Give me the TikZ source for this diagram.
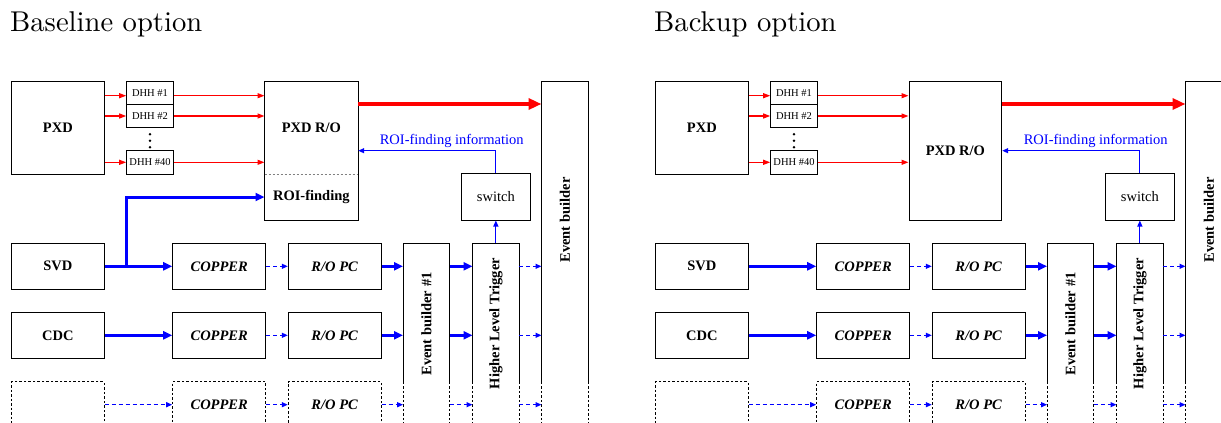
\documentclass[tikz,border=0pt]{standalone}
\usepackage{fontspec}
\newfontfamily\tnr{Liberation Serif}
\newfontfamily\titlefont{lmroman10-regular}[Extension=.otf]
\usetikzlibrary{arrows.meta}
\tikzset{
  box/.style={draw, line width=1pt, inner sep=0pt, font=\tnr\fontsize{14.5}{17}\selectfont\bfseries},
  dbox/.style={box, dash pattern=on 2.5pt off 2pt},
  copperbox/.style={font=\tnr\fontsize{14.5}{17}\selectfont\bfseries\itshape, minimum width=93pt, minimum height=46pt},
  ropcbox/.style={font=\tnr\fontsize{14.5}{17}\selectfont\bfseries\itshape, minimum width=92.7pt, minimum height=46pt},
  detbox/.style={minimum width=92.3pt, minimum height=46pt},
  dhhbox/.style={draw, line width=1pt, inner sep=0pt, font=\tnr\fontsize{10.5}{12}\selectfont, minimum width=46.6pt},
  bar/.style={inner sep=0pt, font=\tnr\fontsize{14.5}{17}\selectfont\bfseries},
  redthin/.style={draw=red, line width=1.2pt, -{Triangle[length=7pt,width=5pt]}},
  bigred/.style={draw=red, line width=4.5pt, -{Triangle[length=13pt,width=11pt]}},
  bluethick/.style={draw=blue, line width=3pt, -{Triangle[length=9pt,width=8pt]}},
  bluedash/.style={draw=blue, line width=1.2pt, dash pattern=on 4pt off 3pt, -{Triangle[length=6pt,width=5pt]}},
  bluethin/.style={draw=blue, line width=1.2pt, -{Triangle[length=6pt,width=5pt]}},
  barline/.style={line width=1pt},
  bardash/.style={line width=1pt, dash pattern=on 2.5pt off 2pt},
  title/.style={anchor=base west, inner sep=0pt, font=\titlefont\fontsize{28.6}{34}\selectfont}
}
\newcommand{\DiagPanel}[3]{%
\begin{scope}[xshift=#2pt]
% PXD and DHH
\node[box, minimum width=92.3pt, minimum height=92.3pt] (#1pxd) at (57.85,127.85) {PXD};
\node[dhhbox, minimum height=22.6pt] (#1dhh1) at (150,93) {DHH \#1};
\node[dhhbox, minimum height=23.4pt] (#1dhh2) at (150,116) {DHH \#2};
\node[dhhbox, minimum height=23.3pt] (#1dhh40) at (150,162.35) {DHH \#40};
\fill (150,134.3) circle (1.4pt) (150,140.7) circle (1.4pt) (150,147.3) circle (1.4pt);
\coordinate (#1ya) at (0,95.7);
\coordinate (#1yb) at (0,116);
\coordinate (#1yc) at (0,162.3);
\coordinate (#1yr) at (0,104);
\coordinate (#1yi) at (0,150.7);
% PXD R/O
\ifnum#3=1
\node[box, draw=none, minimum width=92.7pt, minimum height=92.3pt] (#1ro) at (311.35,127.85) {PXD R/O};
\node[box, draw=none, minimum width=92.7pt, minimum height=46pt] (#1roi) at (311.35,197) {ROI-finding};
\draw[line width=1pt] (#1ro.north west) rectangle (#1roi.south east);
\draw[gray, line width=1pt, dash pattern=on 2pt off 2pt] (#1ro.south west) -- (#1ro.south east);
\else
\node[box, minimum width=92.7pt, minimum height=138.3pt] (#1ro) at (311.35,150.85) {PXD R/O};
\fi
% switch
\node[box, font=\tnr\fontsize{14.5}{17}\selectfont, minimum width=69.7pt, minimum height=46.3pt] (#1sw) at (495.85,196.85) {switch};
% detectors rows
\node[box, detbox] (#1svd) at (57.85,266.3) {SVD};
\node[box, detbox] (#1cdc) at (57.85,335.3) {CDC};
\node[dbox, detbox] (#1d3) at (57.85,404.7) {};
\node[box, copperbox] (#1cp1) at (219.2,266.3) {COPPER};
\node[box, copperbox] (#1cp2) at (219.2,335.3) {COPPER};
\node[dbox, copperbox] (#1cp3) at (219.2,404.7) {COPPER};
\node[box, ropcbox] (#1pc1) at (334.65,266.3) {R/O PC};
\node[box, ropcbox] (#1pc2) at (334.65,335.3) {R/O PC};
\node[dbox, ropcbox] (#1pc3) at (334.65,404.7) {R/O PC};
% vertical bars
\node[bar, minimum width=46.4pt, minimum height=161.4pt] (#1eb1) at (426.5,324) {\rotatebox{90}{Event builder \#1}};
\node[bar, minimum width=46.3pt, minimum height=160.4pt] (#1hlt) at (495.85,323.5) {\rotatebox{90}{Higher Level Trigger}};
\node[bar, minimum width=46.6pt, minimum height=276.6pt] (#1eb) at (565,220) {\rotatebox{90}{Event builder}};
\foreach \b in {eb1,hlt} {
  \draw[barline] (#1\b.north west) ++(0,138.7) coordinate (#1\b bl) -- (#1\b.north west) -- (#1\b.north east) -- ++(0,138.7) coordinate (#1\b br);
}
\draw[barline] (#1eb.north west) ++(0,300.3) coordinate (#1ebbl) -- (#1eb.north west) -- (#1eb.north east) -- ++(0,300.3) coordinate (#1ebbr);
\foreach \c in {eb1bl,eb1br,hltbl,hltbr,ebbl,ebbr} {
  \draw[bardash] (#1\c) -- ++(0,60);
}
% red arrows
\draw[redthin] (#1pxd.east |- #1ya) -- (#1dhh1.west |- #1ya);
\draw[redthin] (#1pxd.east |- #1yb) -- (#1dhh2.west |- #1yb);
\draw[redthin] (#1pxd.east |- #1yc) -- (#1dhh40.west |- #1yc);
\draw[redthin] (#1dhh1.east |- #1ya) -- (#1ro.west |- #1ya);
\draw[redthin] (#1dhh2.east |- #1yb) -- (#1ro.west |- #1yb);
\draw[redthin] (#1dhh40.east |- #1yc) -- (#1ro.west |- #1yc);
\draw[bigred] (#1ro.east |- #1yr) -- (#1eb.west |- #1yr);
% ROI-finding information
\coordinate (#1ic) at (#1sw.north |- #1yi);
\draw[bluethin] (#1sw.north) -- (#1ic) -- (#1ro.east |- #1yi);
\node[text=blue, inner sep=0pt, font=\tnr\fontsize{14.5}{17}\selectfont] (#1roilab) at (451.7,140.7) {ROI-finding information};
\draw[bluethin] (#1hlt.north) -- (#1sw.south);
% row arrows
\draw[bluethick] (#1svd.east) -- (#1cp1.west);
\draw[bluethick] (#1cdc.east) -- (#1cp2.west);
\draw[bluedash] (#1d3.east) -- (#1cp3.west);
\foreach \r in {1,2,3} {
  \draw[bluedash] (#1cp\r.east) -- (#1pc\r.west);
  \draw[bluedash] (#1hlt.east |- #1pc\r) -- (#1eb.west |- #1pc\r);
}
\draw[bluethick] (#1pc1.east) -- (#1eb1.west |- #1pc1);
\draw[bluethick] (#1pc2.east) -- (#1eb1.west |- #1pc2);
\draw[bluedash] (#1pc3.east) -- (#1eb1.west |- #1pc3);
\draw[bluethick] (#1eb1.east |- #1pc1) -- (#1hlt.west |- #1pc1);
\draw[bluethick] (#1eb1.east |- #1pc2) -- (#1hlt.west |- #1pc2);
\draw[bluedash] (#1eb1.east |- #1pc3) -- (#1hlt.west |- #1pc3);
\ifnum#3=1
\coordinate (#1br) at (126.7,266.3);
\draw[bluethick] (#1br) |- (#1roi.west);
\fi
\end{scope}}
\begin{document}
\begin{tikzpicture}[x=1pt,y=-1pt]
\path[use as bounding box] (0,0) rectangle (1221,423);
\clip (0,0) rectangle (1221,423);
\node[title] (t1) at (10,31.7) {Baseline option};
\node[title] (t2) at (654,31.7) {Backup option};
\DiagPanel{L}{0}{1}
\DiagPanel{R}{644}{0}
\end{tikzpicture}
\end{document}
